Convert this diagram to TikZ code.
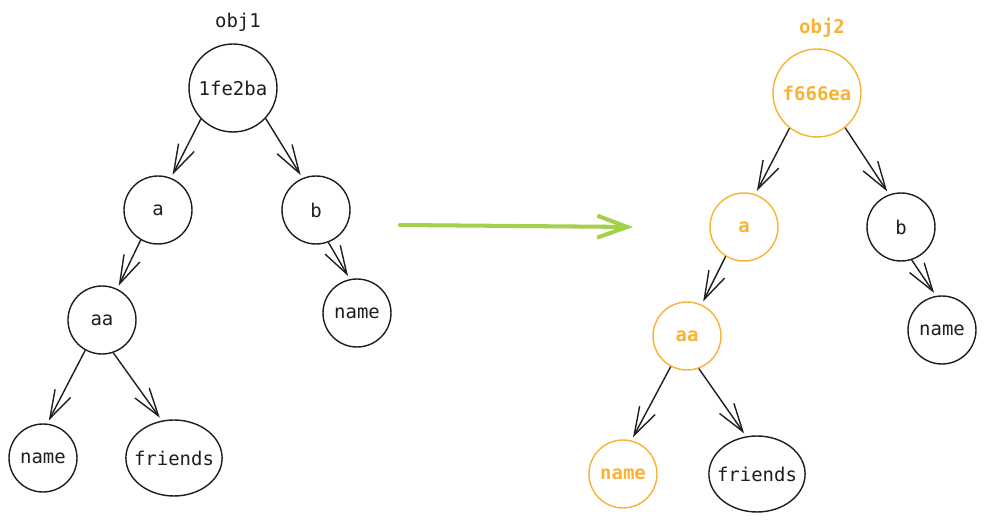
\documentclass[tikz,border=0pt]{standalone}
\usepackage{fontspec}
\setmonofont{DejaVu Sans Mono}
\usetikzlibrary{arrows.meta,shapes.geometric}

\definecolor{inkgray}{HTML}{1E1E1E}
\definecolor{objorange}{HTML}{F9B233}
\definecolor{movegreen}{HTML}{A5D04C}

\tikzset{
    keynode/.style={circle, draw=inkgray, line width=0.8pt, minimum size=1.36cm, inner sep=0pt,
        text=inkgray, font=\ttfamily\fontsize{10.8}{13}\selectfont},
    hashnode/.style={keynode, minimum size=1.76cm},
    listnode/.style={keynode, ellipse, inner xsep=-3.4pt, inner ysep=0pt, minimum width=1.92cm, minimum height=1.52cm},
    copied/.style={draw=objorange, text=objorange, font=\ttfamily\bfseries\fontsize{10.8}{13}\selectfont},
    objlabel/.style={inner sep=0pt, text=inkgray, font=\ttfamily\fontsize{10.8}{13}\selectfont},
    ref/.style={-{Straight Barb[length=16pt,width=10pt]}, line width=0.8pt, draw=inkgray, shorten >=2pt},
}

\begin{document}
\begin{tikzpicture}[x=0.02cm, y=-0.02cm]
    % canvas in pixels of the reference, y pointing down
    \useasboundingbox (0, 0) rectangle (985, 520);

    % Left tree - original object
    \node[objlabel] (obj1) at (238, 22) {obj1};
    \node[hashnode] (root1) at (233, 88) {1fe2ba};
    \node[keynode] (a1) at (158, 210) {a};
    \node[keynode] (b1) at (316, 210) {b};
    \node[keynode] (aa1) at (102, 320) {aa};
    \node[keynode] (bname1) at (357, 313) {name};
    \node[keynode] (name1) at (43, 458) {name};
    \node[listnode] (friends1) at (174, 458) {friends};

    \draw[ref] (root1.224) -- (a1.68);
    \draw[ref] (root1.317) -- (b1.113);
    \draw[ref] (a1.240) -- (aa1.64);
    \draw[ref] (b1.291) -- (bname1.102);
    \draw[ref] (aa1.241) -- (name1.83);
    \draw[ref] (aa1.289) -- (friends1.108);

    % Big arrow in the middle
    \coordinate (movefrom) at (400, 225);
    \coordinate (moveto) at (633, 227);
    \draw[-{Straight Barb[length=17pt,width=12.5pt]}, draw=movegreen, line width=2.3pt, line cap=round]
        (movefrom) -- (moveto);

    % Right tree - copy, changed path in orange
    \node[objlabel, text=objorange, font=\ttfamily\bfseries\fontsize{10.8}{13}\selectfont] (obj2) at (822, 28) {obj2};
    \node[hashnode, copied] (root2) at (817, 93) {f666ea};
    \node[keynode, copied] (a2) at (744, 227) {a};
    \node[keynode] (b2) at (901, 227) {b};
    \node[keynode, copied] (aa2) at (687, 336) {aa};
    \node[keynode] (bname2) at (942, 330) {name};
    \node[keynode, copied] (name2) at (623, 474) {name};
    \node[listnode] (friends2) at (757, 474) {friends};

    \draw[ref] (root2.232) -- (a2.71);
    \draw[ref] (root2.309) -- (b2.110);
    \draw[ref] (a2.238) -- (aa2.65);
    \draw[ref] (b2.288) -- (bname2.100);
    \draw[ref] (aa2.242) -- (name2.76);
    \draw[ref] (aa2.290) -- (friends2.106);
\end{tikzpicture}
\end{document}
